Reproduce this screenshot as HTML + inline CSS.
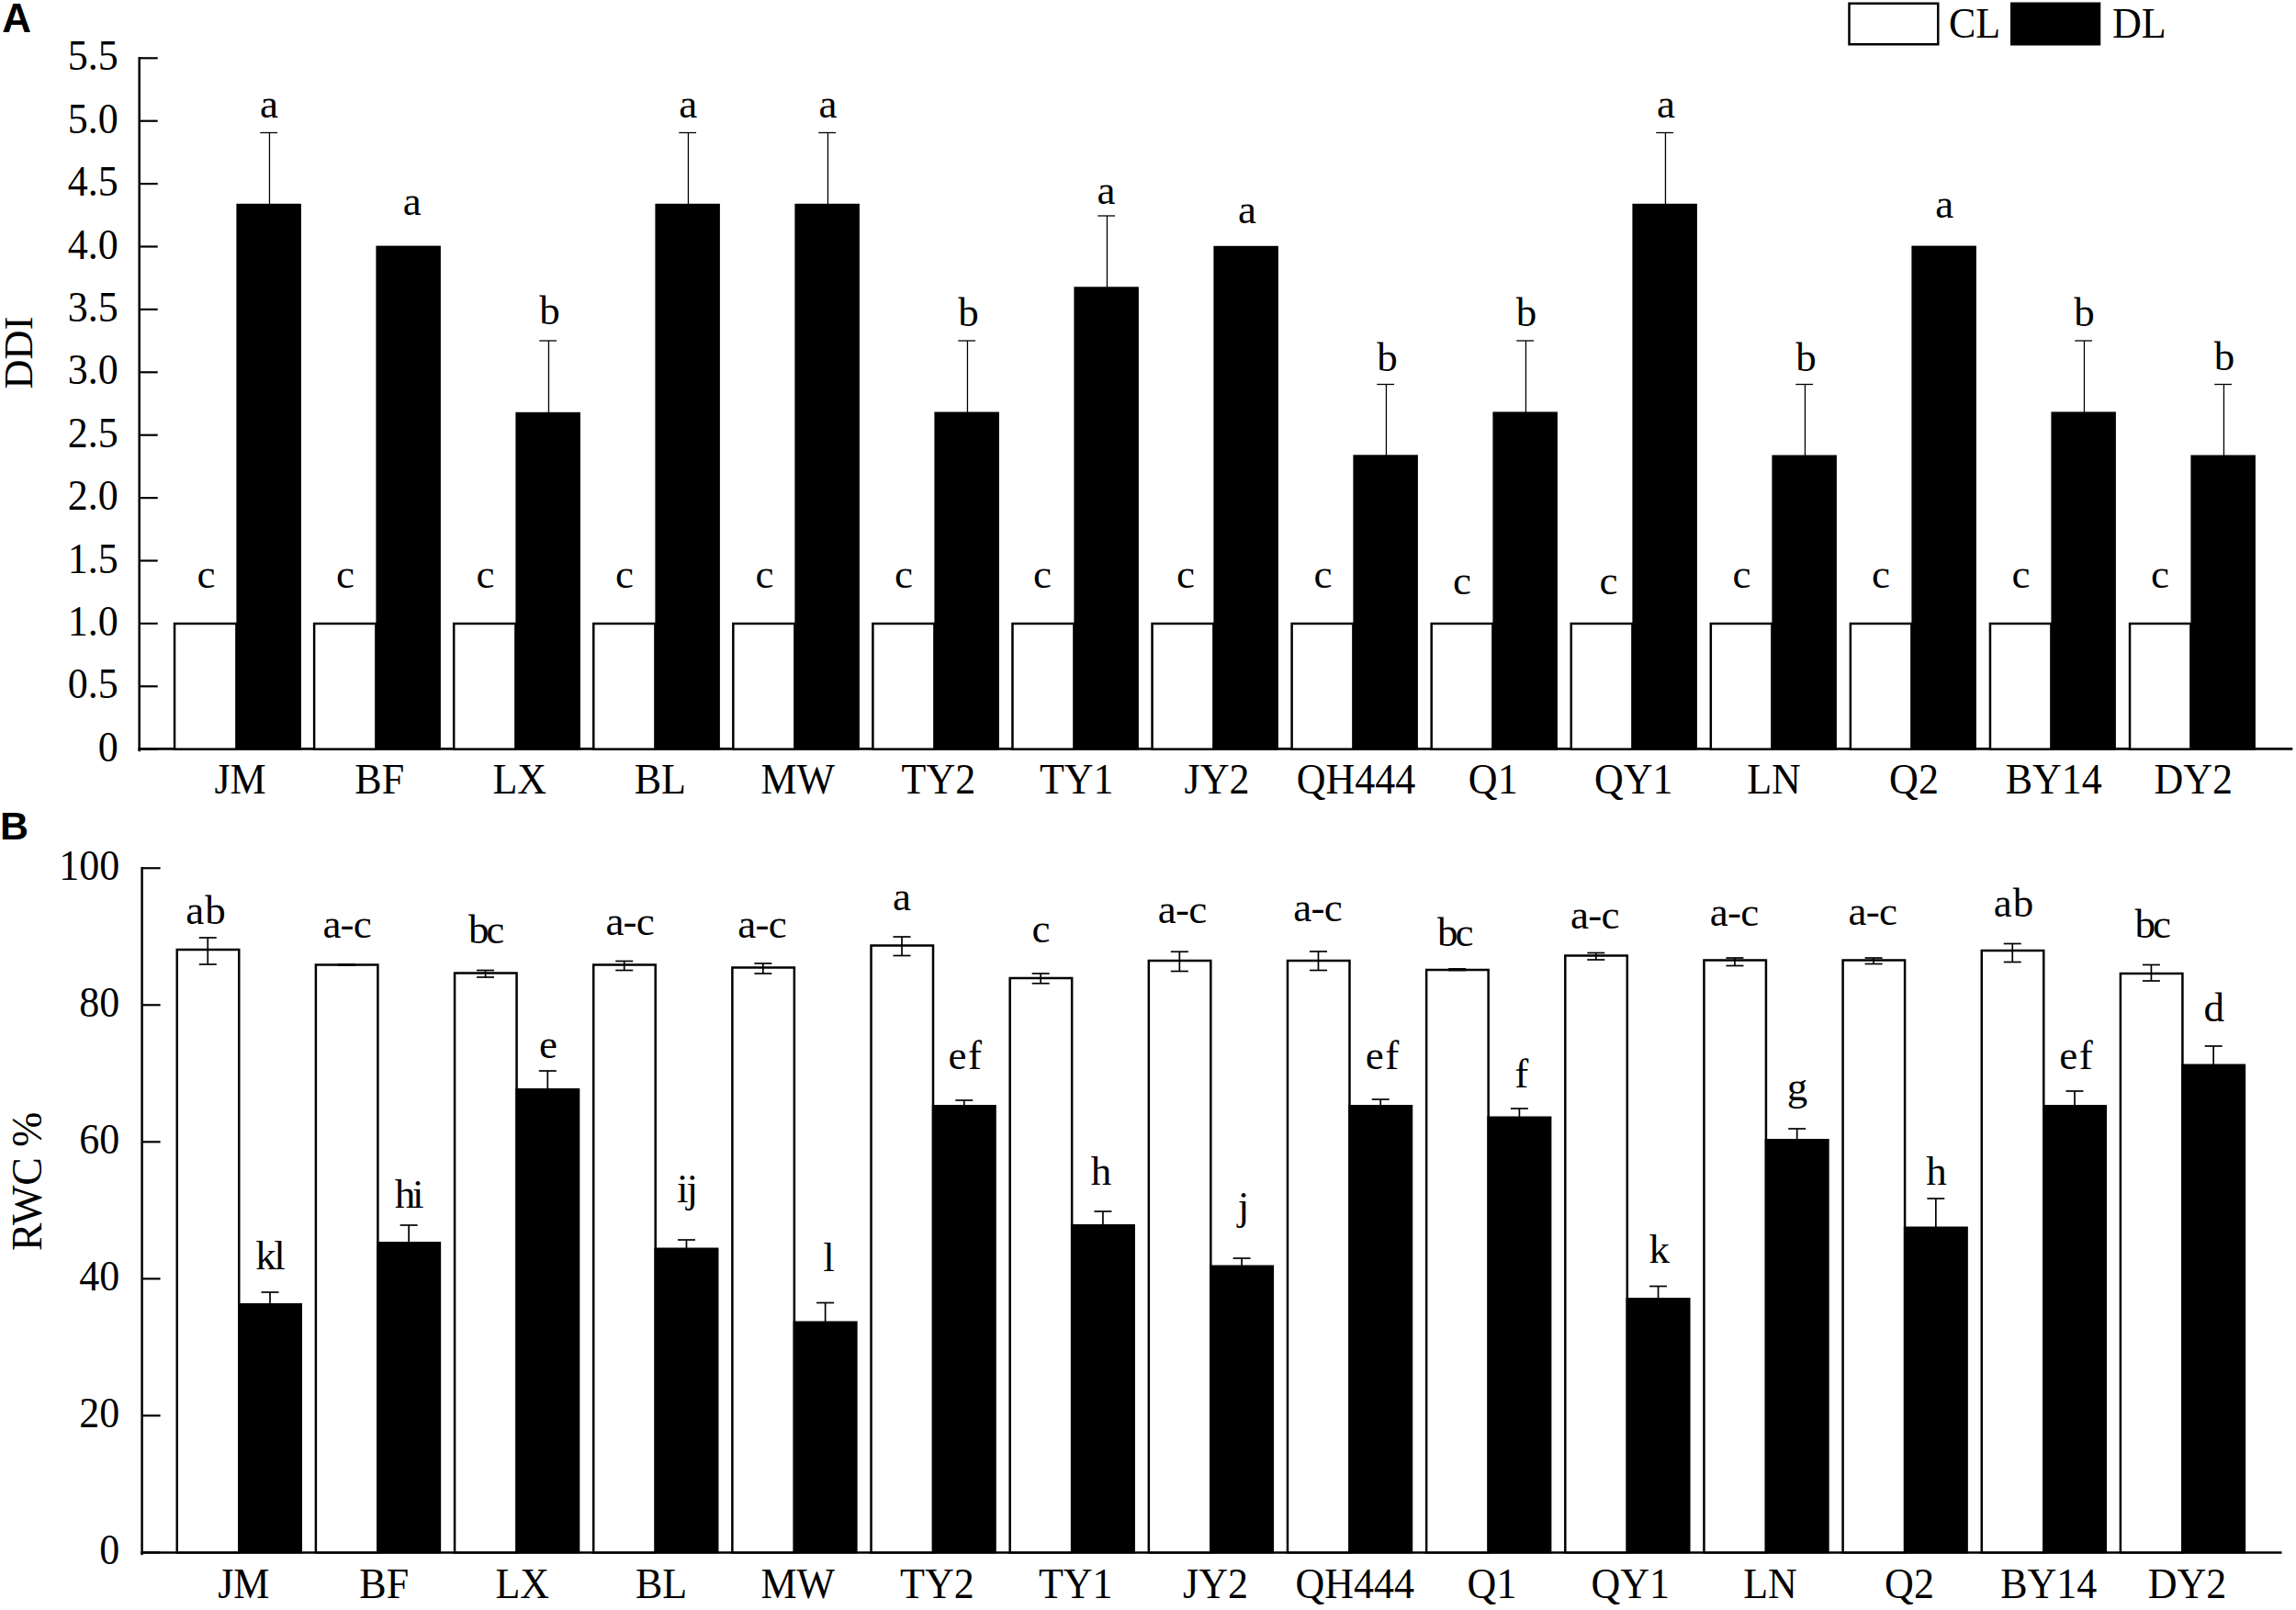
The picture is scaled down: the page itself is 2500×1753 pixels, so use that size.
<!DOCTYPE html>
<html><head><meta charset="utf-8"><title>Figure</title>
<style>
html,body{margin:0;padding:0;background:#fff;}
svg{display:block;font-family:"Liberation Serif","Times New Roman",serif;fill:#000;}
</style></head><body>
<svg width="2500" height="1753" viewBox="0 0 2500 1753">
<rect x="0" y="0" width="2500" height="1753" fill="#fff"/>
<text x="2.3" y="35" font-family="'Liberation Sans',sans-serif" font-weight="bold" font-size="44">A</text>
<line x1="151.70" y1="62.05" x2="151.70" y2="818.30" stroke="#000" stroke-width="2.5"/>
<line x1="150.45" y1="815.40" x2="2496.30" y2="815.40" stroke="#000" stroke-width="2.6"/>
<line x1="151.70" y1="815.70" x2="171.70" y2="815.70" stroke="#000" stroke-width="2.2"/>
<text transform="translate(128.75,828.70) scale(1,1.04)" text-anchor="end" font-size="44">0</text>
<line x1="151.70" y1="747.30" x2="171.70" y2="747.30" stroke="#000" stroke-width="2.2"/>
<text transform="translate(128.75,760.30) scale(1,1.04)" text-anchor="end" font-size="44">0.5</text>
<line x1="151.70" y1="678.90" x2="171.70" y2="678.90" stroke="#000" stroke-width="2.2"/>
<text transform="translate(128.75,691.90) scale(1,1.04)" text-anchor="end" font-size="44">1.0</text>
<line x1="151.70" y1="610.50" x2="171.70" y2="610.50" stroke="#000" stroke-width="2.2"/>
<text transform="translate(128.75,623.50) scale(1,1.04)" text-anchor="end" font-size="44">1.5</text>
<line x1="151.70" y1="542.10" x2="171.70" y2="542.10" stroke="#000" stroke-width="2.2"/>
<text transform="translate(128.75,555.10) scale(1,1.04)" text-anchor="end" font-size="44">2.0</text>
<line x1="151.70" y1="473.70" x2="171.70" y2="473.70" stroke="#000" stroke-width="2.2"/>
<text transform="translate(128.75,486.70) scale(1,1.04)" text-anchor="end" font-size="44">2.5</text>
<line x1="151.70" y1="405.30" x2="171.70" y2="405.30" stroke="#000" stroke-width="2.2"/>
<text transform="translate(128.75,418.30) scale(1,1.04)" text-anchor="end" font-size="44">3.0</text>
<line x1="151.70" y1="336.90" x2="171.70" y2="336.90" stroke="#000" stroke-width="2.2"/>
<text transform="translate(128.75,349.90) scale(1,1.04)" text-anchor="end" font-size="44">3.5</text>
<line x1="151.70" y1="268.50" x2="171.70" y2="268.50" stroke="#000" stroke-width="2.2"/>
<text transform="translate(128.75,281.50) scale(1,1.04)" text-anchor="end" font-size="44">4.0</text>
<line x1="151.70" y1="200.10" x2="171.70" y2="200.10" stroke="#000" stroke-width="2.2"/>
<text transform="translate(128.75,213.10) scale(1,1.04)" text-anchor="end" font-size="44">4.5</text>
<line x1="151.70" y1="131.70" x2="171.70" y2="131.70" stroke="#000" stroke-width="2.2"/>
<text transform="translate(128.75,144.70) scale(1,1.04)" text-anchor="end" font-size="44">5.0</text>
<line x1="151.70" y1="63.30" x2="171.70" y2="63.30" stroke="#000" stroke-width="2.2"/>
<text transform="translate(128.75,76.30) scale(1,1.04)" text-anchor="end" font-size="44">5.5</text>
<text transform="translate(34.8,384) rotate(-90)" text-anchor="middle" font-size="44.5">DDI</text>
<rect x="190.05" y="679.00" width="67.35" height="136.70" fill="#fff" stroke="#000" stroke-width="2.5"/>
<rect x="257.40" y="221.80" width="70.50" height="594.90" fill="#000"/>
<line x1="293.45" y1="144.50" x2="293.45" y2="222.80" stroke="#000" stroke-width="1.3"/>
<line x1="283.25" y1="144.50" x2="302.05" y2="144.50" stroke="#000" stroke-width="1.3"/>
<text x="293.00" y="127.50" text-anchor="middle" font-size="45">a</text>
<text x="224.50" y="640.00" text-anchor="middle" font-size="45">c</text>
<text transform="translate(261.50,864.00) scale(1,1.04)" text-anchor="middle" font-size="44">JM</text>
<rect x="342.12" y="679.00" width="67.28" height="136.70" fill="#fff" stroke="#000" stroke-width="2.5"/>
<rect x="409.40" y="267.60" width="70.50" height="549.10" fill="#000"/>
<text x="448.80" y="234.30" text-anchor="middle" font-size="45">a</text>
<text x="376.00" y="640.00" text-anchor="middle" font-size="45">c</text>
<text transform="translate(413.25,864.00) scale(1,1.04)" text-anchor="middle" font-size="44">BF</text>
<rect x="494.19" y="679.00" width="67.21" height="136.70" fill="#fff" stroke="#000" stroke-width="2.5"/>
<rect x="561.40" y="448.80" width="70.50" height="367.90" fill="#000"/>
<line x1="597.45" y1="371.00" x2="597.45" y2="449.80" stroke="#000" stroke-width="1.3"/>
<line x1="587.25" y1="371.00" x2="606.05" y2="371.00" stroke="#000" stroke-width="1.3"/>
<text x="598.50" y="352.50" text-anchor="middle" font-size="45">b</text>
<text x="528.50" y="640.00" text-anchor="middle" font-size="45">c</text>
<text transform="translate(565.75,864.00) scale(1,1.04)" text-anchor="middle" font-size="44">LX</text>
<rect x="646.26" y="679.00" width="67.14" height="136.70" fill="#fff" stroke="#000" stroke-width="2.5"/>
<rect x="713.40" y="221.80" width="70.50" height="594.90" fill="#000"/>
<line x1="749.45" y1="144.50" x2="749.45" y2="222.80" stroke="#000" stroke-width="1.3"/>
<line x1="739.25" y1="144.50" x2="758.05" y2="144.50" stroke="#000" stroke-width="1.3"/>
<text x="749.30" y="127.50" text-anchor="middle" font-size="45">a</text>
<text x="680.00" y="640.00" text-anchor="middle" font-size="45">c</text>
<text transform="translate(718.75,864.00) scale(1,1.04)" text-anchor="middle" font-size="44">BL</text>
<rect x="798.33" y="679.00" width="67.07" height="136.70" fill="#fff" stroke="#000" stroke-width="2.5"/>
<rect x="865.40" y="221.80" width="70.50" height="594.90" fill="#000"/>
<line x1="901.45" y1="144.50" x2="901.45" y2="222.80" stroke="#000" stroke-width="1.3"/>
<line x1="891.25" y1="144.50" x2="910.05" y2="144.50" stroke="#000" stroke-width="1.3"/>
<text x="901.50" y="127.50" text-anchor="middle" font-size="45">a</text>
<text x="832.50" y="640.00" text-anchor="middle" font-size="45">c</text>
<text transform="translate(868.75,864.00) scale(1,1.04)" text-anchor="middle" font-size="44">MW</text>
<rect x="950.40" y="679.00" width="67.00" height="136.70" fill="#fff" stroke="#000" stroke-width="2.5"/>
<rect x="1017.40" y="448.50" width="70.50" height="368.20" fill="#000"/>
<line x1="1053.45" y1="371.00" x2="1053.45" y2="449.50" stroke="#000" stroke-width="1.3"/>
<line x1="1043.25" y1="371.00" x2="1062.05" y2="371.00" stroke="#000" stroke-width="1.3"/>
<text x="1054.60" y="355.00" text-anchor="middle" font-size="45">b</text>
<text x="984.00" y="640.00" text-anchor="middle" font-size="45">c</text>
<text transform="translate(1021.90,864.00) scale(1,1.04)" text-anchor="middle" font-size="44">TY2</text>
<rect x="1102.47" y="679.00" width="66.93" height="136.70" fill="#fff" stroke="#000" stroke-width="2.5"/>
<rect x="1169.40" y="312.30" width="70.50" height="504.40" fill="#000"/>
<line x1="1205.45" y1="235.00" x2="1205.45" y2="313.30" stroke="#000" stroke-width="1.3"/>
<line x1="1195.25" y1="235.00" x2="1214.05" y2="235.00" stroke="#000" stroke-width="1.3"/>
<text x="1204.50" y="221.50" text-anchor="middle" font-size="45">a</text>
<text x="1135.00" y="640.00" text-anchor="middle" font-size="45">c</text>
<text transform="translate(1172.20,864.00) scale(1,1.04)" text-anchor="middle" font-size="44">TY1</text>
<rect x="1254.54" y="679.00" width="66.86" height="136.70" fill="#fff" stroke="#000" stroke-width="2.5"/>
<rect x="1321.40" y="267.80" width="70.50" height="548.90" fill="#000"/>
<text x="1358.00" y="242.50" text-anchor="middle" font-size="45">a</text>
<text x="1291.00" y="640.00" text-anchor="middle" font-size="45">c</text>
<text transform="translate(1325.00,864.00) scale(1,1.04)" text-anchor="middle" font-size="44">JY2</text>
<rect x="1406.61" y="679.00" width="66.79" height="136.70" fill="#fff" stroke="#000" stroke-width="2.5"/>
<rect x="1473.40" y="495.30" width="70.50" height="321.40" fill="#000"/>
<line x1="1509.45" y1="418.50" x2="1509.45" y2="496.30" stroke="#000" stroke-width="1.3"/>
<line x1="1499.25" y1="418.50" x2="1518.05" y2="418.50" stroke="#000" stroke-width="1.3"/>
<text x="1510.50" y="404.00" text-anchor="middle" font-size="45">b</text>
<text x="1440.50" y="640.00" text-anchor="middle" font-size="45">c</text>
<text transform="translate(1476.50,864.00) scale(1,1.04)" text-anchor="middle" font-size="44">QH444</text>
<rect x="1558.68" y="679.00" width="66.72" height="136.70" fill="#fff" stroke="#000" stroke-width="2.5"/>
<rect x="1625.40" y="448.40" width="70.50" height="368.30" fill="#000"/>
<line x1="1661.45" y1="371.00" x2="1661.45" y2="449.40" stroke="#000" stroke-width="1.3"/>
<line x1="1651.25" y1="371.00" x2="1670.05" y2="371.00" stroke="#000" stroke-width="1.3"/>
<text x="1662.00" y="355.00" text-anchor="middle" font-size="45">b</text>
<text x="1592.00" y="646.50" text-anchor="middle" font-size="45">c</text>
<text transform="translate(1625.75,864.00) scale(1,1.04)" text-anchor="middle" font-size="44">Q1</text>
<rect x="1710.75" y="679.00" width="66.65" height="136.70" fill="#fff" stroke="#000" stroke-width="2.5"/>
<rect x="1777.40" y="221.80" width="70.50" height="594.90" fill="#000"/>
<line x1="1813.45" y1="144.50" x2="1813.45" y2="222.80" stroke="#000" stroke-width="1.3"/>
<line x1="1803.25" y1="144.50" x2="1822.05" y2="144.50" stroke="#000" stroke-width="1.3"/>
<text x="1814.00" y="127.50" text-anchor="middle" font-size="45">a</text>
<text x="1751.50" y="646.50" text-anchor="middle" font-size="45">c</text>
<text transform="translate(1778.75,864.00) scale(1,1.04)" text-anchor="middle" font-size="44">QY1</text>
<rect x="1862.82" y="679.00" width="66.58" height="136.70" fill="#fff" stroke="#000" stroke-width="2.5"/>
<rect x="1929.40" y="495.50" width="70.50" height="321.20" fill="#000"/>
<line x1="1965.45" y1="418.50" x2="1965.45" y2="496.50" stroke="#000" stroke-width="1.3"/>
<line x1="1955.25" y1="418.50" x2="1974.05" y2="418.50" stroke="#000" stroke-width="1.3"/>
<text x="1966.50" y="404.00" text-anchor="middle" font-size="45">b</text>
<text x="1896.50" y="640.00" text-anchor="middle" font-size="45">c</text>
<text transform="translate(1931.50,864.00) scale(1,1.04)" text-anchor="middle" font-size="44">LN</text>
<rect x="2014.89" y="679.00" width="66.51" height="136.70" fill="#fff" stroke="#000" stroke-width="2.5"/>
<rect x="2081.40" y="267.60" width="70.50" height="549.10" fill="#000"/>
<text x="2117.30" y="236.60" text-anchor="middle" font-size="45">a</text>
<text x="2048.00" y="640.00" text-anchor="middle" font-size="45">c</text>
<text transform="translate(2084.00,864.00) scale(1,1.04)" text-anchor="middle" font-size="44">Q2</text>
<rect x="2166.96" y="679.00" width="66.44" height="136.70" fill="#fff" stroke="#000" stroke-width="2.5"/>
<rect x="2233.40" y="448.40" width="70.50" height="368.30" fill="#000"/>
<line x1="2269.45" y1="371.00" x2="2269.45" y2="449.40" stroke="#000" stroke-width="1.3"/>
<line x1="2259.25" y1="371.00" x2="2278.05" y2="371.00" stroke="#000" stroke-width="1.3"/>
<text x="2269.50" y="355.00" text-anchor="middle" font-size="45">b</text>
<text x="2200.50" y="640.00" text-anchor="middle" font-size="45">c</text>
<text transform="translate(2236.25,864.00) scale(1,1.04)" text-anchor="middle" font-size="44">BY14</text>
<rect x="2319.03" y="679.00" width="66.37" height="136.70" fill="#fff" stroke="#000" stroke-width="2.5"/>
<rect x="2385.40" y="495.50" width="70.50" height="321.20" fill="#000"/>
<line x1="2421.45" y1="418.50" x2="2421.45" y2="496.50" stroke="#000" stroke-width="1.3"/>
<line x1="2411.25" y1="418.50" x2="2430.05" y2="418.50" stroke="#000" stroke-width="1.3"/>
<text x="2422.00" y="402.50" text-anchor="middle" font-size="45">b</text>
<text x="2352.00" y="640.00" text-anchor="middle" font-size="45">c</text>
<text transform="translate(2388.25,864.00) scale(1,1.04)" text-anchor="middle" font-size="44">DY2</text>
<rect x="2013.50" y="3.75" width="96.75" height="44.50" fill="#fff" stroke="#000" stroke-width="2.5"/>
<text transform="translate(2122.00,40.50) scale(1,1.04)" text-anchor="start" font-size="44">CL</text>
<rect x="2189.00" y="2.50" width="98.25" height="47.00" fill="#000"/>
<text transform="translate(2300.00,40.50) scale(1,1.04)" text-anchor="start" font-size="44">DL</text>
<text x="0" y="913.7" font-family="'Liberation Sans',sans-serif" font-weight="bold" font-size="43">B</text>
<line x1="154.60" y1="944.00" x2="154.60" y2="1693.00" stroke="#000" stroke-width="2.5"/>
<line x1="153.35" y1="1690.40" x2="2484.50" y2="1690.40" stroke="#000" stroke-width="2.5"/>
<line x1="154.60" y1="1690.40" x2="174.60" y2="1690.40" stroke="#000" stroke-width="2.2"/>
<text transform="translate(130.25,1703.40) scale(1,1.04)" text-anchor="end" font-size="44">0</text>
<line x1="154.60" y1="1541.37" x2="174.60" y2="1541.37" stroke="#000" stroke-width="2.2"/>
<text transform="translate(130.25,1554.37) scale(1,1.04)" text-anchor="end" font-size="44">20</text>
<line x1="154.60" y1="1392.34" x2="174.60" y2="1392.34" stroke="#000" stroke-width="2.2"/>
<text transform="translate(130.25,1405.34) scale(1,1.04)" text-anchor="end" font-size="44">40</text>
<line x1="154.60" y1="1243.31" x2="174.60" y2="1243.31" stroke="#000" stroke-width="2.2"/>
<text transform="translate(130.25,1256.31) scale(1,1.04)" text-anchor="end" font-size="44">60</text>
<line x1="154.60" y1="1094.28" x2="174.60" y2="1094.28" stroke="#000" stroke-width="2.2"/>
<text transform="translate(130.25,1107.28) scale(1,1.04)" text-anchor="end" font-size="44">80</text>
<line x1="154.60" y1="945.25" x2="174.60" y2="945.25" stroke="#000" stroke-width="2.2"/>
<text transform="translate(130.25,958.25) scale(1,1.04)" text-anchor="end" font-size="44">100</text>
<text transform="translate(45,1286.3) rotate(-90)" text-anchor="middle" font-size="45.8">RWC %</text>
<rect x="192.75" y="1034.00" width="67.50" height="656.40" fill="#fff" stroke="#000" stroke-width="2.5"/>
<rect x="259.00" y="1419.00" width="70.00" height="272.40" fill="#000"/>
<line x1="226.25" y1="1021.00" x2="226.25" y2="1050.00" stroke="#000" stroke-width="1.7"/>
<line x1="216.75" y1="1021.00" x2="235.75" y2="1021.00" stroke="#000" stroke-width="1.7"/>
<line x1="216.75" y1="1050.00" x2="235.75" y2="1050.00" stroke="#000" stroke-width="1.7"/>
<line x1="294.00" y1="1407.00" x2="294.00" y2="1420.00" stroke="#000" stroke-width="1.7"/>
<line x1="284.50" y1="1407.00" x2="303.50" y2="1407.00" stroke="#000" stroke-width="1.7"/>
<text x="224.40" y="1005.50" text-anchor="middle" font-size="45" letter-spacing="1.0">ab</text>
<text x="293.25" y="1382.00" text-anchor="middle" font-size="45" letter-spacing="-2.5">kl</text>
<text transform="translate(265.25,1740.00) scale(1,1.04)" text-anchor="middle" font-size="44">JM</text>
<rect x="343.90" y="1050.50" width="67.50" height="639.90" fill="#fff" stroke="#000" stroke-width="2.5"/>
<rect x="410.15" y="1352.00" width="70.00" height="339.40" fill="#000"/>
<line x1="377.40" y1="1050.00" x2="377.40" y2="1051.00" stroke="#000" stroke-width="1.7"/>
<line x1="367.90" y1="1050.00" x2="386.90" y2="1050.00" stroke="#000" stroke-width="1.7"/>
<line x1="367.90" y1="1051.00" x2="386.90" y2="1051.00" stroke="#000" stroke-width="1.7"/>
<line x1="445.15" y1="1334.00" x2="445.15" y2="1353.00" stroke="#000" stroke-width="1.7"/>
<line x1="435.65" y1="1334.00" x2="454.65" y2="1334.00" stroke="#000" stroke-width="1.7"/>
<text x="377.73" y="1020.80" text-anchor="middle" font-size="45" letter-spacing="-0.75">a-c</text>
<text x="444.10" y="1315.30" text-anchor="middle" font-size="45" letter-spacing="-3.2">hi</text>
<text transform="translate(418.25,1740.00) scale(1,1.04)" text-anchor="middle" font-size="44">BF</text>
<rect x="495.06" y="1059.50" width="67.50" height="630.90" fill="#fff" stroke="#000" stroke-width="2.5"/>
<rect x="561.31" y="1185.00" width="70.00" height="506.40" fill="#000"/>
<line x1="528.56" y1="1056.50" x2="528.56" y2="1064.00" stroke="#000" stroke-width="1.7"/>
<line x1="519.06" y1="1056.50" x2="538.06" y2="1056.50" stroke="#000" stroke-width="1.7"/>
<line x1="519.06" y1="1064.00" x2="538.06" y2="1064.00" stroke="#000" stroke-width="1.7"/>
<line x1="596.31" y1="1166.00" x2="596.31" y2="1186.00" stroke="#000" stroke-width="1.7"/>
<line x1="586.81" y1="1166.00" x2="605.81" y2="1166.00" stroke="#000" stroke-width="1.7"/>
<text x="528.10" y="1026.50" text-anchor="middle" font-size="45" letter-spacing="-3.2">bc</text>
<text x="597.10" y="1152.30" text-anchor="middle" font-size="45">e</text>
<text transform="translate(568.75,1740.00) scale(1,1.04)" text-anchor="middle" font-size="44">LX</text>
<rect x="646.21" y="1050.50" width="67.50" height="639.90" fill="#fff" stroke="#000" stroke-width="2.5"/>
<rect x="712.46" y="1358.50" width="70.00" height="332.90" fill="#000"/>
<line x1="679.71" y1="1046.50" x2="679.71" y2="1056.50" stroke="#000" stroke-width="1.7"/>
<line x1="670.21" y1="1046.50" x2="689.21" y2="1046.50" stroke="#000" stroke-width="1.7"/>
<line x1="670.21" y1="1056.50" x2="689.21" y2="1056.50" stroke="#000" stroke-width="1.7"/>
<line x1="747.46" y1="1350.00" x2="747.46" y2="1359.50" stroke="#000" stroke-width="1.7"/>
<line x1="737.96" y1="1350.00" x2="756.96" y2="1350.00" stroke="#000" stroke-width="1.7"/>
<text x="685.73" y="1018.40" text-anchor="middle" font-size="45" letter-spacing="-0.75">a-c</text>
<text x="747.60" y="1309.30" text-anchor="middle" font-size="45" letter-spacing="-2.0">ij</text>
<text transform="translate(720.00,1740.00) scale(1,1.04)" text-anchor="middle" font-size="44">BL</text>
<rect x="797.37" y="1053.50" width="67.50" height="636.90" fill="#fff" stroke="#000" stroke-width="2.5"/>
<rect x="863.62" y="1438.50" width="70.00" height="252.90" fill="#000"/>
<line x1="830.87" y1="1049.00" x2="830.87" y2="1060.00" stroke="#000" stroke-width="1.7"/>
<line x1="821.37" y1="1049.00" x2="840.37" y2="1049.00" stroke="#000" stroke-width="1.7"/>
<line x1="821.37" y1="1060.00" x2="840.37" y2="1060.00" stroke="#000" stroke-width="1.7"/>
<line x1="898.62" y1="1418.50" x2="898.62" y2="1439.50" stroke="#000" stroke-width="1.7"/>
<line x1="889.12" y1="1418.50" x2="908.12" y2="1418.50" stroke="#000" stroke-width="1.7"/>
<text x="829.62" y="1020.80" text-anchor="middle" font-size="45" letter-spacing="-0.75">a-c</text>
<text x="902.60" y="1384.30" text-anchor="middle" font-size="45">l</text>
<text transform="translate(868.75,1740.00) scale(1,1.04)" text-anchor="middle" font-size="44">MW</text>
<rect x="948.52" y="1029.50" width="67.50" height="660.90" fill="#fff" stroke="#000" stroke-width="2.5"/>
<rect x="1014.77" y="1203.00" width="70.00" height="488.40" fill="#000"/>
<line x1="982.02" y1="1020.00" x2="982.02" y2="1040.50" stroke="#000" stroke-width="1.7"/>
<line x1="972.52" y1="1020.00" x2="991.52" y2="1020.00" stroke="#000" stroke-width="1.7"/>
<line x1="972.52" y1="1040.50" x2="991.52" y2="1040.50" stroke="#000" stroke-width="1.7"/>
<line x1="1049.77" y1="1198.00" x2="1049.77" y2="1204.00" stroke="#000" stroke-width="1.7"/>
<line x1="1040.27" y1="1198.00" x2="1059.27" y2="1198.00" stroke="#000" stroke-width="1.7"/>
<text x="982.00" y="991.00" text-anchor="middle" font-size="45">a</text>
<text x="1051.50" y="1164.00" text-anchor="middle" font-size="45" letter-spacing="1.5">ef</text>
<text transform="translate(1020.40,1740.00) scale(1,1.04)" text-anchor="middle" font-size="44">TY2</text>
<rect x="1099.67" y="1065.00" width="67.50" height="625.40" fill="#fff" stroke="#000" stroke-width="2.5"/>
<rect x="1165.92" y="1333.00" width="70.00" height="358.40" fill="#000"/>
<line x1="1133.17" y1="1060.00" x2="1133.17" y2="1070.75" stroke="#000" stroke-width="1.7"/>
<line x1="1123.67" y1="1060.00" x2="1142.67" y2="1060.00" stroke="#000" stroke-width="1.7"/>
<line x1="1123.67" y1="1070.75" x2="1142.67" y2="1070.75" stroke="#000" stroke-width="1.7"/>
<line x1="1200.92" y1="1319.00" x2="1200.92" y2="1334.00" stroke="#000" stroke-width="1.7"/>
<line x1="1191.42" y1="1319.00" x2="1210.42" y2="1319.00" stroke="#000" stroke-width="1.7"/>
<text x="1133.50" y="1025.50" text-anchor="middle" font-size="45">c</text>
<text x="1199.00" y="1290.00" text-anchor="middle" font-size="45">h</text>
<text transform="translate(1171.20,1740.00) scale(1,1.04)" text-anchor="middle" font-size="44">TY1</text>
<rect x="1250.83" y="1046.00" width="67.50" height="644.40" fill="#fff" stroke="#000" stroke-width="2.5"/>
<rect x="1317.08" y="1377.50" width="70.00" height="313.90" fill="#000"/>
<line x1="1284.33" y1="1036.25" x2="1284.33" y2="1057.50" stroke="#000" stroke-width="1.7"/>
<line x1="1274.83" y1="1036.25" x2="1293.83" y2="1036.25" stroke="#000" stroke-width="1.7"/>
<line x1="1274.83" y1="1057.50" x2="1293.83" y2="1057.50" stroke="#000" stroke-width="1.7"/>
<line x1="1352.08" y1="1370.00" x2="1352.08" y2="1378.50" stroke="#000" stroke-width="1.7"/>
<line x1="1342.58" y1="1370.00" x2="1361.58" y2="1370.00" stroke="#000" stroke-width="1.7"/>
<text x="1287.12" y="1005.00" text-anchor="middle" font-size="45" letter-spacing="-0.75">a-c</text>
<text x="1354.00" y="1327.50" text-anchor="middle" font-size="45">j</text>
<text transform="translate(1323.50,1740.00) scale(1,1.04)" text-anchor="middle" font-size="44">JY2</text>
<rect x="1401.98" y="1046.00" width="67.50" height="644.40" fill="#fff" stroke="#000" stroke-width="2.5"/>
<rect x="1468.23" y="1203.00" width="70.00" height="488.40" fill="#000"/>
<line x1="1435.48" y1="1036.00" x2="1435.48" y2="1056.50" stroke="#000" stroke-width="1.7"/>
<line x1="1425.98" y1="1036.00" x2="1444.98" y2="1036.00" stroke="#000" stroke-width="1.7"/>
<line x1="1425.98" y1="1056.50" x2="1444.98" y2="1056.50" stroke="#000" stroke-width="1.7"/>
<line x1="1503.23" y1="1197.00" x2="1503.23" y2="1204.00" stroke="#000" stroke-width="1.7"/>
<line x1="1493.73" y1="1197.00" x2="1512.73" y2="1197.00" stroke="#000" stroke-width="1.7"/>
<text x="1434.62" y="1002.50" text-anchor="middle" font-size="45" letter-spacing="-0.75">a-c</text>
<text x="1505.75" y="1164.00" text-anchor="middle" font-size="45" letter-spacing="1.5">ef</text>
<text transform="translate(1475.25,1740.00) scale(1,1.04)" text-anchor="middle" font-size="44">QH444</text>
<rect x="1553.14" y="1056.00" width="67.50" height="634.40" fill="#fff" stroke="#000" stroke-width="2.5"/>
<rect x="1619.39" y="1215.50" width="70.00" height="475.90" fill="#000"/>
<line x1="1586.64" y1="1054.90" x2="1586.64" y2="1056.50" stroke="#000" stroke-width="1.7"/>
<line x1="1577.14" y1="1054.90" x2="1596.14" y2="1054.90" stroke="#000" stroke-width="1.7"/>
<line x1="1577.14" y1="1056.50" x2="1596.14" y2="1056.50" stroke="#000" stroke-width="1.7"/>
<line x1="1654.39" y1="1207.00" x2="1654.39" y2="1216.50" stroke="#000" stroke-width="1.7"/>
<line x1="1644.89" y1="1207.00" x2="1663.89" y2="1207.00" stroke="#000" stroke-width="1.7"/>
<text x="1583.15" y="1030.00" text-anchor="middle" font-size="45" letter-spacing="-3.2">bc</text>
<text x="1656.75" y="1184.00" text-anchor="middle" font-size="45">f</text>
<text transform="translate(1624.50,1740.00) scale(1,1.04)" text-anchor="middle" font-size="44">Q1</text>
<rect x="1704.29" y="1040.50" width="67.50" height="649.90" fill="#fff" stroke="#000" stroke-width="2.5"/>
<rect x="1770.54" y="1413.00" width="70.00" height="278.40" fill="#000"/>
<line x1="1737.79" y1="1037.50" x2="1737.79" y2="1045.00" stroke="#000" stroke-width="1.7"/>
<line x1="1728.29" y1="1037.50" x2="1747.29" y2="1037.50" stroke="#000" stroke-width="1.7"/>
<line x1="1728.29" y1="1045.00" x2="1747.29" y2="1045.00" stroke="#000" stroke-width="1.7"/>
<line x1="1805.54" y1="1400.50" x2="1805.54" y2="1414.00" stroke="#000" stroke-width="1.7"/>
<line x1="1796.04" y1="1400.50" x2="1815.04" y2="1400.50" stroke="#000" stroke-width="1.7"/>
<text x="1736.38" y="1011.00" text-anchor="middle" font-size="45" letter-spacing="-0.75">a-c</text>
<text x="1806.75" y="1375.00" text-anchor="middle" font-size="45">k</text>
<text transform="translate(1775.25,1740.00) scale(1,1.04)" text-anchor="middle" font-size="44">QY1</text>
<rect x="1855.44" y="1045.50" width="67.50" height="644.90" fill="#fff" stroke="#000" stroke-width="2.5"/>
<rect x="1921.69" y="1240.00" width="70.00" height="451.40" fill="#000"/>
<line x1="1888.94" y1="1043.00" x2="1888.94" y2="1051.50" stroke="#000" stroke-width="1.7"/>
<line x1="1879.44" y1="1043.00" x2="1898.44" y2="1043.00" stroke="#000" stroke-width="1.7"/>
<line x1="1879.44" y1="1051.50" x2="1898.44" y2="1051.50" stroke="#000" stroke-width="1.7"/>
<line x1="1956.69" y1="1229.00" x2="1956.69" y2="1241.00" stroke="#000" stroke-width="1.7"/>
<line x1="1947.19" y1="1229.00" x2="1966.19" y2="1229.00" stroke="#000" stroke-width="1.7"/>
<text x="1888.12" y="1007.50" text-anchor="middle" font-size="45" letter-spacing="-0.75">a-c</text>
<text x="1957.00" y="1198.00" text-anchor="middle" font-size="45">g</text>
<text transform="translate(1927.50,1740.00) scale(1,1.04)" text-anchor="middle" font-size="44">LN</text>
<rect x="2006.60" y="1045.50" width="67.50" height="644.90" fill="#fff" stroke="#000" stroke-width="2.5"/>
<rect x="2072.85" y="1335.50" width="70.00" height="355.90" fill="#000"/>
<line x1="2040.10" y1="1043.00" x2="2040.10" y2="1049.50" stroke="#000" stroke-width="1.7"/>
<line x1="2030.60" y1="1043.00" x2="2049.60" y2="1043.00" stroke="#000" stroke-width="1.7"/>
<line x1="2030.60" y1="1049.50" x2="2049.60" y2="1049.50" stroke="#000" stroke-width="1.7"/>
<line x1="2107.85" y1="1305.00" x2="2107.85" y2="1336.50" stroke="#000" stroke-width="1.7"/>
<line x1="2098.35" y1="1305.00" x2="2117.35" y2="1305.00" stroke="#000" stroke-width="1.7"/>
<text x="2038.88" y="1006.50" text-anchor="middle" font-size="45" letter-spacing="-0.75">a-c</text>
<text x="2108.50" y="1290.00" text-anchor="middle" font-size="45">h</text>
<text transform="translate(2079.00,1740.00) scale(1,1.04)" text-anchor="middle" font-size="44">Q2</text>
<rect x="2157.75" y="1035.00" width="67.50" height="655.40" fill="#fff" stroke="#000" stroke-width="2.5"/>
<rect x="2224.00" y="1203.00" width="70.00" height="488.40" fill="#000"/>
<line x1="2191.25" y1="1027.50" x2="2191.25" y2="1047.50" stroke="#000" stroke-width="1.7"/>
<line x1="2181.75" y1="1027.50" x2="2200.75" y2="1027.50" stroke="#000" stroke-width="1.7"/>
<line x1="2181.75" y1="1047.50" x2="2200.75" y2="1047.50" stroke="#000" stroke-width="1.7"/>
<line x1="2259.00" y1="1188.00" x2="2259.00" y2="1204.00" stroke="#000" stroke-width="1.7"/>
<line x1="2249.50" y1="1188.00" x2="2268.50" y2="1188.00" stroke="#000" stroke-width="1.7"/>
<text x="2193.00" y="997.50" text-anchor="middle" font-size="45" letter-spacing="1.0">ab</text>
<text x="2261.25" y="1164.00" text-anchor="middle" font-size="45" letter-spacing="1.5">ef</text>
<text transform="translate(2230.75,1740.00) scale(1,1.04)" text-anchor="middle" font-size="44">BY14</text>
<rect x="2308.91" y="1060.00" width="67.50" height="630.40" fill="#fff" stroke="#000" stroke-width="2.5"/>
<rect x="2375.16" y="1158.50" width="70.00" height="532.90" fill="#000"/>
<line x1="2342.41" y1="1050.50" x2="2342.41" y2="1068.00" stroke="#000" stroke-width="1.7"/>
<line x1="2332.91" y1="1050.50" x2="2351.91" y2="1050.50" stroke="#000" stroke-width="1.7"/>
<line x1="2332.91" y1="1068.00" x2="2351.91" y2="1068.00" stroke="#000" stroke-width="1.7"/>
<line x1="2410.16" y1="1139.00" x2="2410.16" y2="1159.50" stroke="#000" stroke-width="1.7"/>
<line x1="2400.66" y1="1139.00" x2="2419.66" y2="1139.00" stroke="#000" stroke-width="1.7"/>
<text x="2342.65" y="1020.50" text-anchor="middle" font-size="45" letter-spacing="-3.2">bc</text>
<text x="2410.75" y="1112.00" text-anchor="middle" font-size="45">d</text>
<text transform="translate(2381.50,1740.00) scale(1,1.04)" text-anchor="middle" font-size="44">DY2</text>
</svg>
</body></html>
